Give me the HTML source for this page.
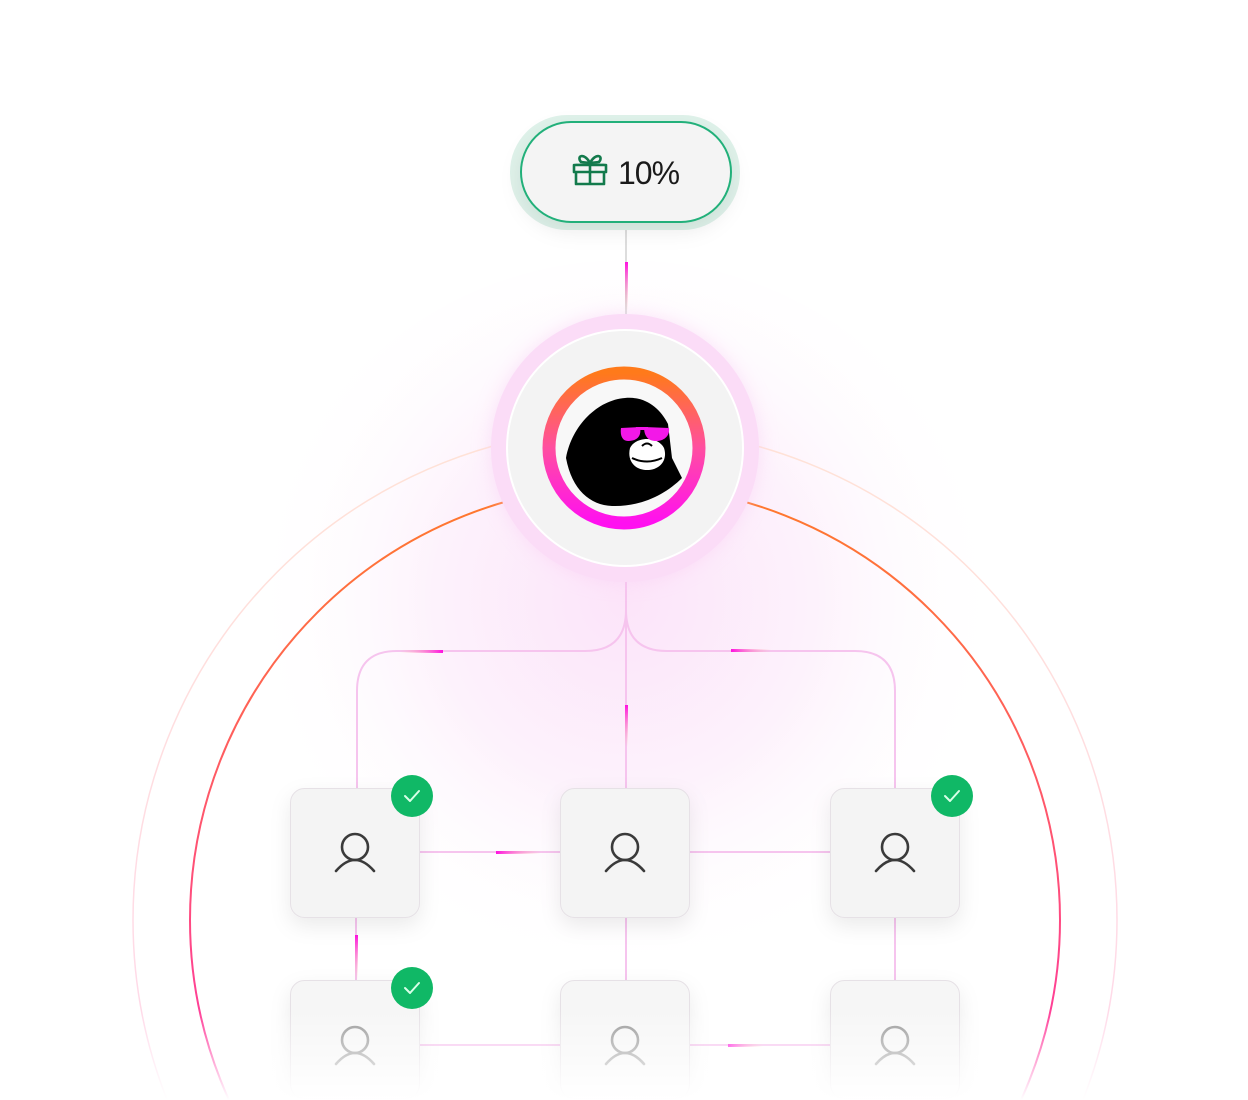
<!DOCTYPE html>
<html><head><meta charset="utf-8"><style>
html,body{margin:0;padding:0;background:#fff;}
body{width:1248px;height:1100px;overflow:hidden;font-family:"Liberation Sans",sans-serif;}
svg{display:block;}
</style></head><body>
<svg width="1248" height="1100" viewBox="0 0 1248 1100" xmlns="http://www.w3.org/2000/svg">
<defs>
<linearGradient id="arc" x1="0" y1="0" x2="0" y2="1" gradientUnits="objectBoundingBox">
<stop offset="0" stop-color="#ff7a2a"/><stop offset="0.45" stop-color="#ff4f78"/><stop offset="0.9" stop-color="#ff22d0"/></linearGradient>
<linearGradient id="arc2" x1="0" y1="0" x2="0" y2="1">
<stop offset="0" stop-color="#ffe2d6"/><stop offset="0.9" stop-color="#ffd6f2"/></linearGradient>
<radialGradient id="glow" cx="625" cy="600" r="380" gradientUnits="userSpaceOnUse">
<stop offset="0" stop-color="#fce4f9"/><stop offset="0.5" stop-color="#fdf2fc"/><stop offset="1" stop-color="#fff" stop-opacity="0"/></radialGradient>
<linearGradient id="ring" x1="0" y1="0" x2="0" y2="1">
<stop offset="0" stop-color="#ff7a1a"/><stop offset="0.5" stop-color="#ff4ea0"/><stop offset="1" stop-color="#ff10f0"/></linearGradient>
<linearGradient id="fade" x1="0" y1="0" x2="0" y2="1">
<stop offset="0" stop-color="#fff" stop-opacity="0"/><stop offset="1" stop-color="#fff" stop-opacity="1"/></linearGradient>
<linearGradient id="hl" x1="0" y1="0" x2="1" y2="0"><stop offset="0" stop-color="#ffb0a0" stop-opacity="0"/><stop offset="1" stop-color="#ff10e0"/></linearGradient>
<linearGradient id="hr" x1="0" y1="0" x2="1" y2="0"><stop offset="0" stop-color="#ff10e0"/><stop offset="1" stop-color="#ffb0a0" stop-opacity="0"/></linearGradient>
<linearGradient id="hv" x1="0" y1="0" x2="0" y2="1"><stop offset="0" stop-color="#ff10e0"/><stop offset="1" stop-color="#ffb0a0" stop-opacity="0"/></linearGradient>
<filter id="sh" x="-30%" y="-30%" width="160%" height="160%"><feDropShadow dx="0" dy="8" stdDeviation="10" flood-color="#000" flood-opacity="0.08"/></filter>
<filter id="pg" x="-40%" y="-40%" width="180%" height="180%"><feGaussianBlur stdDeviation="10"/></filter>
</defs>
<circle cx="625" cy="640" r="380" fill="url(#glow)"/>
<circle cx="625" cy="920" r="492" fill="none" stroke="url(#arc2)" stroke-width="1.5"/>
<circle cx="625" cy="920" r="435" fill="none" stroke="url(#arc)" stroke-width="2"/>

<g fill="none" stroke="#f6c4ee" stroke-width="2">
<line x1="626" y1="230" x2="626" y2="320" stroke="#ddd"/>
<line x1="626" y1="580" x2="626" y2="788"/>
<path d="M626 610 Q626 651 585 651 L397 651 Q357 651 357 691 L357 788"/>
<path d="M626 610 Q626 651 667 651 L855 651 Q895 651 895 691 L895 788"/>
<line x1="419" y1="852" x2="561" y2="852"/>
<line x1="689" y1="852" x2="831" y2="852"/>
<line x1="356" y1="917" x2="356" y2="980"/>
<line x1="626" y1="917" x2="626" y2="980"/>
<line x1="895" y1="917" x2="895" y2="980"/>
<line x1="419" y1="1045" x2="561" y2="1045"/>
<line x1="689" y1="1045" x2="831" y2="1045"/>
</g>
<rect x="625" y="262" width="3" height="50" fill="url(#hv)"/>
<rect x="400" y="650" width="43" height="3" fill="url(#hl)"/>
<rect x="731" y="649" width="40" height="3" fill="url(#hr)"/>
<rect x="625" y="705" width="3" height="42" fill="url(#hv)"/>
<rect x="496" y="851" width="45" height="3" fill="url(#hr)"/>
<rect x="355" y="935" width="3" height="45" fill="url(#hv)"/>
<rect x="728" y="1044" width="35" height="3" fill="url(#hr)"/>

<rect x="510" y="115" width="230" height="115" rx="57" fill="#dff2ea"/>
<rect x="521" y="122" width="210" height="100" rx="50" fill="#f4f4f4" stroke="#22b07a" stroke-width="2" filter="url(#sh)"/>
<g fill="none" stroke="#137a4c" stroke-width="2.6" stroke-linejoin="round">
<rect x="576" y="165" width="28" height="19"/><rect x="574" y="165" width="32" height="7" fill="#f4f4f4"/>
<line x1="590" y1="163" x2="590" y2="184"/>
<path d="M590 163 C584 152 576 156 581 162 Z M590 163 C596 152 604 156 599 162 Z"/>
</g>
<text x="618" y="184" font-size="32" fill="#1a1a1a" font-family="Liberation Sans,sans-serif" letter-spacing="-1">10%</text>

<circle cx="625" cy="448" r="132" fill="#f8c8f2" filter="url(#pg)" opacity="0.6"/>
<circle cx="625" cy="448" r="134" fill="#fbdcf7"/>
<circle cx="625" cy="448" r="118" fill="#f3f3f3" stroke="#fff" stroke-width="2"/>
<circle cx="624" cy="448" r="75" fill="#f8f8f8" stroke="url(#ring)" stroke-width="13"/>
<path d="M566 458 C572 425 598 400 625 398 C645 396 660 408 668 424 L672 458 L682 478 C665 495 640 507 612 506 C590 505 572 490 566 458 Z" fill="#000"/>
<path d="M630 448 C636 436 658 436 664 448 C668 460 660 470 647 470 C634 470 627 460 630 448 Z" fill="#fff"/>
<path d="M632 458 Q647 465 662 458" stroke="#000" stroke-width="2" fill="none"/>
<path d="M642 446 Q647 441 652 446" stroke="#000" stroke-width="2" fill="none"/>
<path d="M621 428 L640 427 C642 437 636 441 628 441 C622 441 620 435 621 428 Z M644 427 L669 428 C670 436 664 441 656 441 C648 441 644 436 644 427 Z" fill="#f318e8"/>
<rect x="636" y="427" width="12" height="3" fill="#f318e8"/>

<g filter="url(#sh)">
<rect x="290.5" y="788.5" width="129" height="129" rx="14" fill="#f4f4f4" stroke="#e6e1e6"/>
<rect x="560.5" y="788.5" width="129" height="129" rx="14" fill="#f4f4f4" stroke="#e6e1e6"/>
<rect x="830.5" y="788.5" width="129" height="129" rx="14" fill="#f4f4f4" stroke="#e6e1e6"/>
<rect x="290.5" y="980.5" width="129" height="118" rx="14" fill="#f6f6f6" stroke="#e6e1e6"/>
<rect x="560.5" y="980.5" width="129" height="118" rx="14" fill="#f6f6f6" stroke="#e6e1e6"/>
<rect x="830.5" y="980.5" width="129" height="118" rx="14" fill="#f6f6f6" stroke="#e6e1e6"/>
</g>
<g fill="none" stroke="#3a3a3a" stroke-width="2.6" stroke-linecap="round">
<circle cx="355" cy="847" r="13"/><path d="M336 871 Q355 849 374 871"/>
<circle cx="625" cy="847" r="13"/><path d="M606 871 Q625 849 644 871"/>
<circle cx="895" cy="847" r="13"/><path d="M876 871 Q895 849 914 871"/>
</g>
<g fill="none" stroke="#999" stroke-width="2.6" stroke-linecap="round">
<circle cx="355" cy="1040" r="13"/><path d="M336 1064 Q355 1042 374 1064"/>
<circle cx="625" cy="1040" r="13"/><path d="M606 1064 Q625 1042 644 1064"/>
<circle cx="895" cy="1040" r="13"/><path d="M876 1064 Q895 1042 914 1064"/>
</g>
<rect x="0" y="1010" width="1248" height="90" fill="url(#fade)"/>
<circle cx="412" cy="796" r="21" fill="#10b866"/>
<circle cx="952" cy="796" r="21" fill="#10b866"/>
<circle cx="412" cy="988" r="21" fill="#10b866"/>
<g fill="none" stroke="#d8ffe8" stroke-width="2" stroke-linecap="round" stroke-linejoin="round">
<path d="M405 796 L410 801 L419 791"/><path d="M945 796 L950 801 L959 791"/><path d="M405 988 L410 993 L419 983"/>
</g>
</svg>
</body></html>
